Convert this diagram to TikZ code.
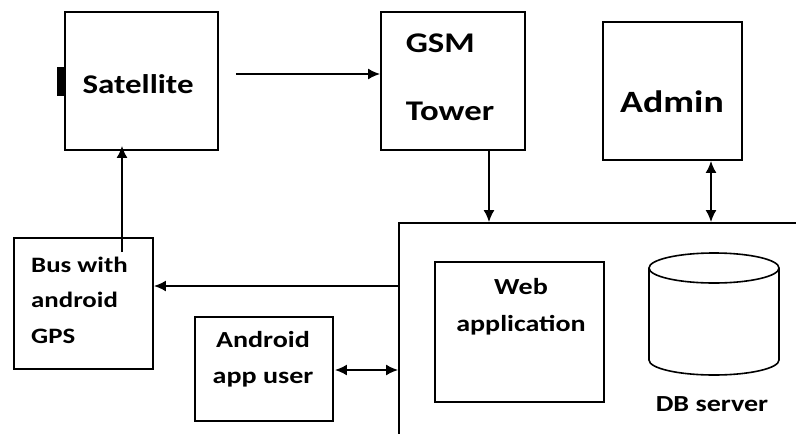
\documentclass[tikz,border=0pt]{standalone}
\usepackage{fontspec}
\setmainfont{Carlito}[FakeStretch=1.22]
\usetikzlibrary{arrows.meta}
\begin{document}
\begin{tikzpicture}[x=1pt,y=-1pt,
  box/.style={draw, line width=1.8pt, rectangle, inner sep=0pt, font=\bfseries},
  lbl/.style={inner sep=0pt, font=\bfseries},
  tip/.tip={Latex[length=12pt,width=11pt]},
  arr/.style={line width=1.8pt, -tip},
  darr/.style={line width=1.8pt, tip-tip}]
\useasboundingbox (0,0) rectangle (796,434);
\clip (0,0) rectangle (796,434);

% top row
\node[box, minimum width=153pt, minimum height=138pt] (sat) at (141.5,81) {};
\node[lbl, font=\bfseries\fontsize{27}{30}\selectfont] (sattxt) at (138,84) {Satellite};
\node[fill=black, minimum width=7pt, minimum height=29pt, inner sep=0pt, anchor=east]
  (tab) at (sat.west) {};
\node[box, minimum width=144pt, minimum height=138pt] (gsm) at (453,81) {};
\node[lbl, align=left, font=\bfseries\fontsize{28.5}{68}\selectfont] (gsmtxt) at (450,77)
  {GSM\\Tower};
\node[box, minimum width=139pt, minimum height=138pt] (admin) at (672.5,91) {};
\node[lbl, font=\bfseries\fontsize{31}{34}\selectfont] (admintxt) at (672,102) {Admin};

% server enclosure with web application and database
\node[box, minimum width=440pt, minimum height=240pt] (server) at (619,343) {};
\node[box, minimum width=169pt, minimum height=140pt] (web) at (519.5,332) {};
\node[lbl, align=center, font=\bfseries\fontsize{23}{37}\selectfont] (webtxt) at (521,307)
  {Web\\application};
\draw[line width=1.6pt] (714,268) ellipse [x radius=65pt, y radius=15pt];
\draw[line width=1.6pt] (649,268) -- (649,360)
  arc[start angle=180, end angle=360, x radius=65pt, y radius=15pt] -- (779,268);
\node[lbl, font=\bfseries\fontsize{23}{26}\selectfont] (db) at (712,404) {DB server};

% clients
\node[box, minimum width=139pt, minimum height=131pt] (bus) at (83.5,303.5) {};
\node[lbl, align=left, font=\bfseries\fontsize{22}{35.5}\selectfont, anchor=west]
  (bustxt) at (31,300) {Bus with\\android\\GPS};
\node[box, minimum width=138pt, minimum height=104pt] (user) at (264,369) {};
\node[lbl, align=center, font=\bfseries\fontsize{23}{36}\selectfont] (usertxt) at (263,359)
  {Android\\app user};

% connectors
\coordinate (busline) at (122,252);
\coordinate (leftline) at (0,286);
\coordinate (userline) at (0,370);
\draw[arr, shorten <=17pt] ([yshift=7pt]sat.east) -- ([yshift=7pt]gsm.west);
\draw[arr] ([xshift=36pt]gsm.south) -- ([xshift=36pt]gsm.south |- server.north);
\draw[darr] ([xshift=38.5pt]admin.south) -- ([xshift=38.5pt]admin.south |- server.north);
\draw[arr, shorten >=-5pt] (busline) -- (busline |- sat.south);
\draw[arr] (server.west |- leftline) -- (bus.east |- leftline);
\draw[darr, shorten <=1pt] (user.east |- userline) -- (server.west |- userline);
\end{tikzpicture}
\end{document}
